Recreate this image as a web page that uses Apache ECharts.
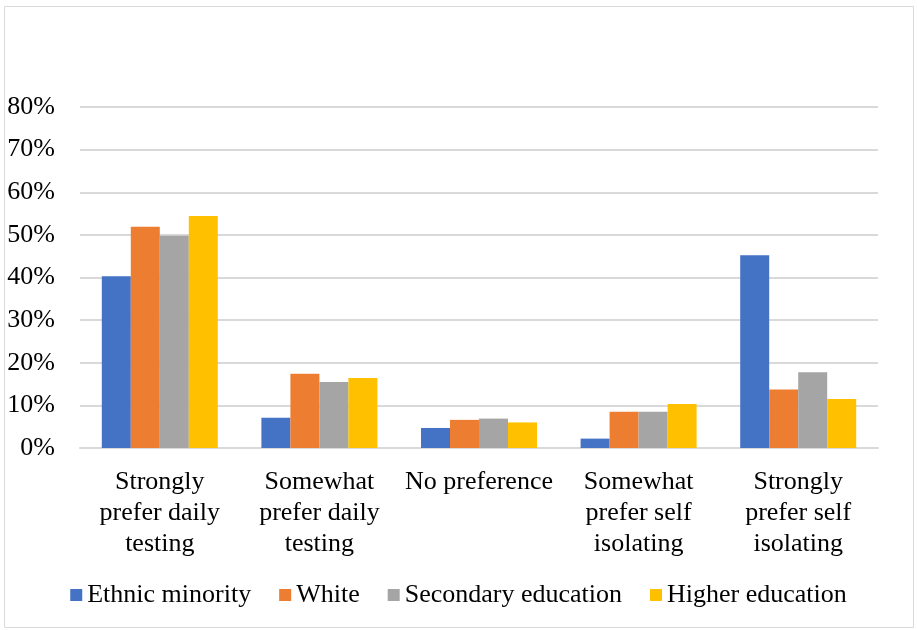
<!DOCTYPE html>
<html>

<head>
    <meta charset="utf-8" />
    <script src="https://cdn.jsdelivr.net/npm/echarts@6/dist/echarts.min.js"></script>
</head>

<body style="margin:0;">
    <div id="main" style="width: 917px;height:630px;"></div>
    <script type="text/javascript">
        const categories = ["Strongly\nprefer daily\ntesting", "Somewhat\nprefer daily\ntesting", "No preference", "Somewhat\nprefer self\nisolating", "Strongly\nprefer self\nisolating"];
        const ethnicMinority = [40.3, 7.1, 4.7, 2.2, 45.2];
        const white = [51.9, 17.4, 6.6, 8.5, 13.7];
        const secondaryEducation = [49.8, 15.5, 6.9, 8.5, 17.8];
        const higherEducation = [54.4, 16.4, 6.0, 10.3, 11.5];

        const FONT = 'Liberation Serif';

        function bar(name, data, color) {
            return {
                name: name,
                type: 'bar',
                data: data,
                barWidth: 29,
                barGap: '0%',
                itemStyle: { color: color },
                emphasis: { disabled: true }
            };
        }

        const myChart = echarts.init(document.getElementById('main'));
        myChart.setOption({
            animation: false,
            textStyle: { fontFamily: FONT },
            graphic: [{
                type: 'rect',
                shape: { x: 4.5, y: 6.5, width: 909, height: 621 },
                style: { fill: 'none', stroke: '#d9d9d9', lineWidth: 1 },
                silent: true
            }],
            grid: { left: 80, right: 39, top: 107, bottom: 182 },
            legend: {
                top: 577,
                left: 'center',
                icon: 'rect',
                itemWidth: 12,
                itemHeight: 12,
                itemGap: 28,
                textStyle: { fontFamily: FONT, fontSize: 26, color: '#000' },
                data: ['Ethnic minority', 'White', 'Secondary education', 'Higher education']
            },
            xAxis: {
                type: 'category',
                data: categories,
                axisLine: { lineStyle: { color: '#d9d9d9', width: 2 } },
                axisTick: { show: false },
                axisLabel: {
                    interval: 0,
                    margin: 19,
                    fontFamily: FONT,
                    fontSize: 26,
                    lineHeight: 31,
                    color: '#000',
                    verticalAlign: 'top'
                }
            },
            yAxis: {
                type: 'value',
                min: 0,
                max: 80,
                interval: 10,
                axisLine: { show: false },
                axisTick: { show: false },
                splitLine: { lineStyle: { color: '#d9d9d9', width: 2 } },
                axisLabel: {
                    margin: 25,
                    fontFamily: FONT,
                    fontSize: 26,
                    color: '#000',
                    formatter: '{value}%'
                }
            },
            series: [
                bar('Ethnic minority', ethnicMinority, '#4472c4'),
                bar('White', white, '#ed7d31'),
                bar('Secondary education', secondaryEducation, '#a5a5a5'),
                bar('Higher education', higherEducation, '#ffc000')
            ]
        });
    </script>
</body>

</html>
